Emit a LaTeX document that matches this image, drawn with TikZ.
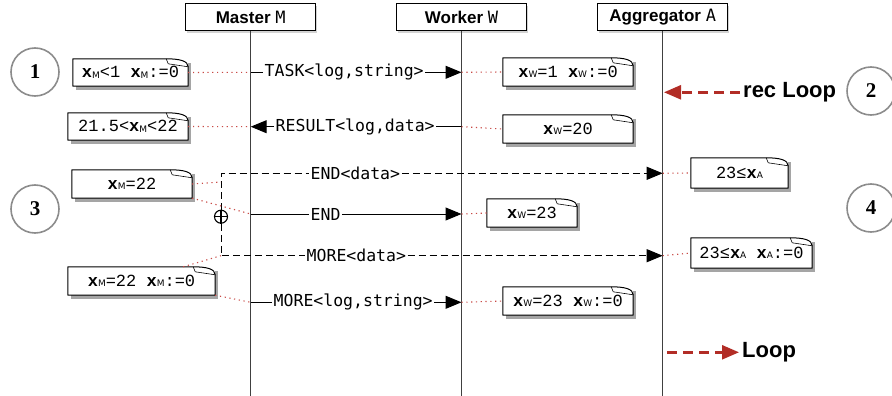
\documentclass[tikz,border=0pt]{standalone}
\usepackage{fontspec}
\setmainfont{Liberation Sans}
\newfontfamily\lblfont{DejaVu Sans Mono}
\newfontfamily\notefont{Liberation Mono}
\newfontfamily\numfont{Liberation Serif}
\newfontfamily\subfont{DejaVu Sans}
\usetikzlibrary{arrows.meta,shadows}
\definecolor{dotred}{HTML}{C84A45}
\definecolor{loopred}{HTML}{B22D26}
\newcommand\xs[1]{\textbf{x}\raisebox{-0.5pt}{\subfont\fontsize{9}{9}\selectfont #1}}
\tikzset{
  hdr/.style={draw, line width=1pt, fill=white, minimum width=130pt, minimum height=27pt,
    inner sep=0pt, font=\fontsize{17}{19}\selectfont\bfseries,
    drop shadow={shadow xshift=1.5pt, shadow yshift=-2pt, opacity=0.35}},
  life/.style={draw=black!75, line width=1.3pt},
  lbl/.style={fill=white, inner xsep=1.5pt, inner ysep=1pt, anchor=west,
    font=\lblfont\fontsize{16.5}{18}\selectfont},
  msg/.style={draw=black, line width=1pt},
  dmsg/.style={draw=black, line width=1pt, dash pattern=on 7pt off 4pt},
  tip/.style={-{Triangle[length=16pt,width=13pt]}},
  dotc/.style={draw=dotred, line width=1.1pt, dash pattern=on 1.2pt off 3.6pt},
  notebase/.style={fill=white, inner sep=0pt, font=\notefont\fontsize{17}{19}\selectfont,
    drop shadow={shadow xshift=2.5pt, shadow yshift=-4pt, opacity=0.5, fill=black!70}},
  noteline/.style={draw=black, line width=1pt, line join=round},
  numc/.style={circle, draw=black!45, line width=1.6pt, minimum size=48pt, inner sep=0pt,
    font=\numfont\bfseries\fontsize{21}{21}\selectfont},
  looptxt/.style={anchor=west, inner xsep=3pt, font=\fontsize{22}{24}\selectfont\bfseries},
  loopar/.style={draw=loopred, line width=2.5pt, dash pattern=on 10pt off 6pt,
    -{Triangle[length=17pt,width=14pt,fill=loopred]}},
}
\newcommand\mknote[6]{%
  \node[notebase, minimum width=#4pt, minimum height=#5pt] (#1) at (#2,#3) {#6};
  \draw[noteline] (#1.south west) -- (#1.north west) -- ([xshift=-22pt]#1.north east)
     .. controls ([xshift=-9pt]#1.north east) and ([yshift=-2pt]#1.north east) .. ([yshift=-8pt]#1.north east)
     -- (#1.south east) -- cycle;
  \draw[noteline, line width=0.6pt] ([xshift=-22pt]#1.north east) -- ([xshift=-20pt,yshift=-5pt]#1.north east) -- ([yshift=-8pt]#1.north east);
}
\begin{document}
\begin{tikzpicture}[x=1pt,y=-1pt]
\useasboundingbox (0,0) rectangle (892,396);
% headers
\node[hdr] (M) at (250.7,17.5) {Master {\lblfont\mdseries M}};
\node[hdr] (W) at (461.5,17.5) {Worker {\lblfont\mdseries W}};
\node[hdr] (A) at (662.7,17.5) {Aggregator {\lblfont\mdseries A}};
\coordinate (Mb) at (250.7,396);
\coordinate (Wb) at (461.5,396);
\coordinate (Ab) at (662.7,396);
\draw[life] (M.south) -- (Mb);
\draw[life] (W.south) -- (Wb);
\draw[life] (A.south) -- (Ab);
% lifeline points
\coordinate (M1) at (250.7,72.3);  \coordinate (W1) at (461.5,72.3);
\coordinate (M2) at (250.7,126.7); \coordinate (W2) at (461.5,126.7);
\coordinate (A3) at (662.7,173.3);
\coordinate (M4) at (250.7,214);   \coordinate (W4) at (461.5,214);
\coordinate (A5) at (662.7,255.7);
\coordinate (M6) at (250.7,302.3); \coordinate (W6) at (461.5,302.3);
\coordinate (boxtl) at (221,173.3);
\coordinate (boxbl) at (221,255.7);
\coordinate (bx5) at (221,182);
% circles
\node[numc] (c1) at (35,72) {1};
\node[numc] (c2) at (871,91) {2};
\node[numc] (c3) at (35,209) {3};
\node[numc] (c4) at (871,208) {4};
% messages
\node[lbl] (l1) at (263,72.3) {TASK<log,string>};
\draw[msg] (M1) -- (l1.west);
\draw[msg,tip] (l1.east) -- (W1);
\node[lbl] (l2) at (274,126.7) {RESULT<log,data>};
\draw[msg] (W2) -- (l2.east);
\draw[msg,tip] (l2.west) -- (M2);
\node[lbl] (l3) at (309,173.3) {END<data>};
\node[draw, circle, line width=1.1pt, minimum size=13pt, inner sep=0pt, fill=white] (plus) at (221,216.7) {};
\draw[line width=1.1pt] (plus.north) -- (plus.south) (plus.west) -- (plus.east);
\draw[dmsg] (plus.north) -- (boxtl) -- (l3.west);
\draw[dmsg,tip] (l3.east) -- (A3);
\node[lbl] (l4) at (309,214) {END};
\draw[msg] (M4) -- (l4.west);
\draw[msg,tip] (l4.east) -- (W4);
\node[lbl] (l5) at (305,255.7) {MORE<data>};
\draw[dmsg] (plus.south) -- (boxbl) -- (l5.west);
\draw[dmsg,tip] (l5.east) -- (A5);
\node[lbl] (l6) at (272,302.3) {MORE<log,string>};
\draw[msg] (M6) -- (l6.west);
\draw[msg,tip] (l6.east) -- (W6);
% notes
\mknote{n1}{130.5}{72.5}{115}{27}{\xs{M}<1 \xs{M}:=0}
\mknote{n2}{568}{72}{130}{28}{\xs{W}=1 \xs{W}:=0}
\mknote{n3}{128}{126.5}{120}{27}{21.5<\xs{M}<22}
\mknote{n4}{568}{129}{130}{28}{\xs{W}=20}
\mknote{n5}{132}{184}{120}{28}{\xs{M}=22}
\mknote{n6}{739.5}{173}{97}{30}{23≤\xs{A}}
\mknote{n7}{532}{213}{90}{28}{\xs{W}=23}
\mknote{n8}{751.5}{253}{121}{30}{23≤\xs{A} \xs{A}:=0}
\mknote{n9}{141.5}{281}{147}{28}{\xs{M}=22 \xs{M}:=0}
\mknote{n10}{568}{301}{130}{28}{\xs{W}=23 \xs{W}:=0}
% dotted links
\draw[dotc] (n1.east) -- (M1);
\draw[dotc] (W1) -- (n2.west);
\draw[dotc] (n3.east) -- (M2);
\draw[dotc] (W2) -- (n4.west);
\draw[dotc] (n5.east) -- (bx5);
\draw[dotc] (n5.south east) -- (M4);
\draw[dotc] (A3) -- (n6.west);
\draw[dotc] (W4) -- (n7.west);
\draw[dotc] (A5) -- (n8.west);
\draw[dotc] ([xshift=-32pt]n9.north east) -- (boxbl);
\draw[dotc] (n9.south east) -- (M6);
\draw[dotc] (W6) -- (n10.west);
% loops
\node[looptxt] (rl) at (740,92.3) {rec Loop};
\coordinate (Ar) at (664,92.3);
\draw[loopar] (rl.west) -- (Ar);
\node[looptxt] (lp) at (739,352.3) {Loop};
\coordinate (Al) at (667,352.3);
\draw[loopar] (Al) -- (lp.west);
\end{tikzpicture}
\end{document}
